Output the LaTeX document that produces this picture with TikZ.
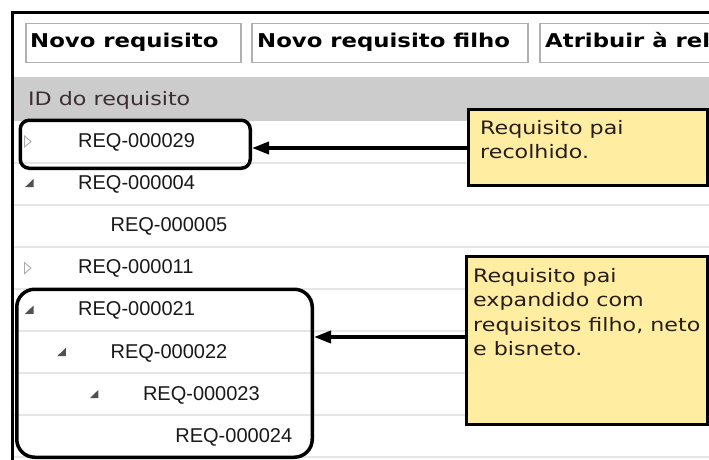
\documentclass[tikz,border=0pt]{standalone}
\usepackage{fontspec}
\usetikzlibrary{arrows.meta}
\newfontfamily\vfont[FakeStretch=1.2]{DejaVu Sans}
\newfontfamily\afont{Liberation Sans}
\definecolor{hdrgray}{RGB}{204,204,204}
\definecolor{sepgray}{RGB}{230,230,230}
\definecolor{btnborder}{RGB}{176,176,176}
\definecolor{callfill}{RGB}{255,238,162}
\definecolor{calltext}{RGB}{40,28,28}
\definecolor{hdrtext}{RGB}{60,45,50}
\definecolor{reqtext}{RGB}{25,25,25}
\definecolor{icongray}{RGB}{170,170,170}
\definecolor{icondark}{RGB}{80,80,80}
\begin{document}
\begin{tikzpicture}[x=1pt,y=-1pt,
  btn/.style={draw=btnborder, line width=1.5pt, fill=white, inner sep=0pt, anchor=north west},
  btntext/.style={anchor=base west, inner sep=0pt, font=\vfont\bfseries\fontsize{19}{23}\selectfont, text=black},
  hdrtext/.style={anchor=base west, inner sep=0pt, font=\vfont\fontsize{18.5}{23}\selectfont, text=hdrtext},
  req/.style={anchor=base west, inner sep=0pt, font=\afont\fontsize{20}{24}\selectfont, text=reqtext},
  sep/.style={draw=sepgray, line width=1.5pt},
  collapsed/.style={draw=icongray, line width=0.9pt, line join=miter},
  expanded/.style={fill=icondark},
  hl/.style={draw=black, line width=3.5pt, inner sep=0pt, anchor=north west},
  callout/.style={draw=black, fill=callfill, line width=3.5pt, inner sep=0pt, anchor=north west},
  calltext/.style={anchor=base west, inner sep=0pt, font=\vfont\fontsize{18.5}{24}\selectfont, text=calltext},
  arr/.style={draw=black, line width=3.5pt, -{Triangle[length=17pt,width=12pt]}}
]
\useasboundingbox (0,0) rectangle (709,460);
\clip (0,0) rectangle (709,460);
\fill[white] (0,0) rectangle (709,460);
% header band
\fill[hdrgray] (13,77) rectangle (709,121);
% row separators
\foreach \yy in {163,205,247,289,331,373,415,457} \draw[sep] (13,\yy) -- (709,\yy);
% frame
\draw[line width=2.5pt] (12.5,460) -- (12.5,12.5) -- (709,12.5);
% buttons
\node[btn, minimum width=215pt, minimum height=39pt] (bt1) at (25,23) {};
\node[btn, minimum width=276pt, minimum height=39pt] (bt2) at (251,23) {};
\node[btn, minimum width=190pt, minimum height=39pt] (bt3) at (539,23) {};
\node[btntext] (bt1t) at (30,48) {Novo requisito};
\node[btntext] (bt2t) at (257,48) {Novo requisito filho};
\node[btntext] (bt3t) at (545,48) {Atribuir à rel};
% header text
\node[hdrtext] (hdr) at (28,105.5) {ID do requisito};
% rows
\node[req] (r0) at (78,147) {REQ-000029};
\node[req] (r1) at (78,189.2) {REQ-000004};
\node[req] (r2) at (110.4,231.4) {REQ-000005};
\node[req] (r3) at (78,273.6) {REQ-000011};
\node[req] (r4) at (78,315.8) {REQ-000021};
\node[req] (r5) at (110.4,358) {REQ-000022};
\node[req] (r6) at (142.8,400.2) {REQ-000023};
\node[req] (r7) at (175.2,442.4) {REQ-000024};
% icons
\draw[collapsed] (24.5,136) -- (31,141.5) -- (24.5,147) -- cycle;
\draw[collapsed] (24.5,262.6) -- (31,268.1) -- (24.5,273.6) -- cycle;
\fill[expanded] (25,187.2) -- (33.5,187.2) -- (33.5,179) -- cycle;
\fill[expanded] (25,313.8) -- (33.5,313.8) -- (33.5,305.6) -- cycle;
\fill[expanded] (57.4,356) -- (65.9,356) -- (65.9,347.8) -- cycle;
\fill[expanded] (89.8,398.2) -- (98.3,398.2) -- (98.3,390) -- cycle;
% highlight boxes
\node[hl, rounded corners=9pt, minimum width=230pt, minimum height=48pt] (b1) at (18.5,118.5) {};
\node[hl, rounded corners=18pt, minimum width=295.5pt, minimum height=168pt] (b2) at (15,287.5) {};
% callouts
\node[callout, minimum width=239.5pt, minimum height=76pt] (c1) at (466.5,107.5) {};
\node[callout, minimum width=241.5pt, minimum height=168pt] (c2) at (464.5,254.5) {};
\node[calltext] (c1a) at (480,134) {Requisito pai};
\node[calltext] (c1b) at (480,158.5) {recolhido.};
\node[calltext] (c2a) at (473,282) {Requisito pai};
\node[calltext] (c2b) at (473,306.5) {expandido com};
\node[calltext] (c2c) at (473,331) {requisitos filho, neto};
\node[calltext] (c2d) at (473,355.5) {e bisneto.};
% arrows
\coordinate (ay1) at (0,148);
\coordinate (ay2) at (0,337);
\draw[arr] (c1.west |- ay1) -- (b1.east |- ay1);
\draw[arr] (c2.west |- ay2) -- (b2.east |- ay2);
\end{tikzpicture}
\end{document}
